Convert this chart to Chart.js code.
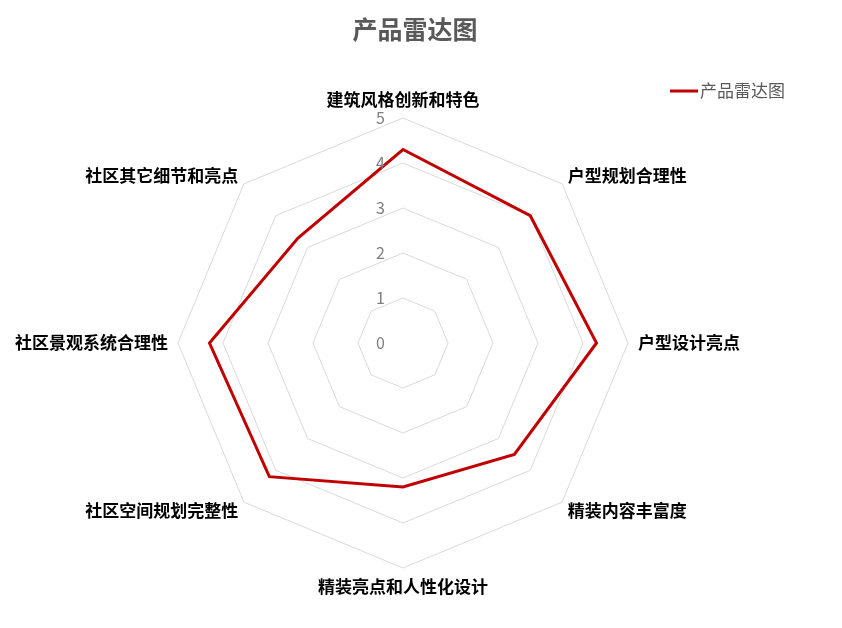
<!DOCTYPE html>
<html>
<head>
<meta charset="utf-8">
<script src="https://cdn.jsdelivr.net/npm/chart.js@4.4.0/dist/chart.umd.min.js"></script>
<style>
  html, body { margin: 0; padding: 0; background: #fff; }
  #wrap { width: 842px; height: 628px; }
</style>
</head>
<body>
<div id="wrap"><canvas id="chart" width="842" height="628"></canvas></div>
<script>
// 维度和评分
const categories = ['建筑风格创新和特色', '户型规划合理性', '户型设计亮点', '精装内容丰富度',
    '精装亮点和人性化设计', '社区空间规划完整性', '社区景观系统合理性', '社区其它细节和亮点'];
const scores = [4.3, 4.0, 4.3, 3.5, 3.2, 4.2, 4.3, 3.3];
const tickValues = [0, 1, 2, 3, 4, 5];
const chartTitle = '产品雷达图';
const seriesName = '产品雷达图';

const FONT = '"Noto Sans CJK SC", "Noto Sans", sans-serif';

// 标题、刻度数字(中轴左侧)和右上角图例
const extrasPlugin = {
    id: 'extras',
    afterDatasetsDraw(chart) {
        const scale = chart.scales.r;
        const ctx = chart.ctx;
        ctx.save();

        ctx.font = 'bold 25px ' + FONT;
        ctx.fillStyle = '#595959';
        ctx.textAlign = 'center';
        ctx.textBaseline = 'middle';
        ctx.fillText(chartTitle, 415, 29);

        ctx.font = '16px ' + FONT;
        ctx.fillStyle = '#7f7f7f';
        ctx.textAlign = 'right';
        tickValues.forEach(v => {
            const d = scale.getDistanceFromCenterForValue(v);
            ctx.fillText(String(v), scale.xCenter - 18, scale.yCenter - d);
        });

        // 图例
        const ds = chart.data.datasets[0];
        ctx.strokeStyle = ds.borderColor;
        ctx.lineWidth = 3;
        ctx.beginPath();
        ctx.moveTo(670, 91);
        ctx.lineTo(698, 91);
        ctx.stroke();
        ctx.fillStyle = '#595959';
        ctx.textAlign = 'left';
        ctx.font = '17px ' + FONT;
        ctx.fillText(ds.label, 700, 91);
        ctx.restore();
    }
};

new Chart(document.getElementById('chart'), {
    type: 'radar',
    data: {
        labels: categories,
        datasets: [{
            label: seriesName,
            data: scores,
            borderColor: '#c00000',
            backgroundColor: 'rgba(0,0,0,0)',
            borderWidth: 3,
            pointRadius: 0,
            fill: false
        }]
    },
    options: {
        responsive: false,
        animation: false,
        layout: { padding: { left: 0, right: 56, top: 91, bottom: 33 } },
        plugins: {
            title: { display: false },
            legend: { display: false },
            tooltip: { enabled: false }
        },
        scales: {
            r: {
                min: 0,
                max: 5,
                ticks: { display: false, stepSize: 1 },
                angleLines: { display: false },
                grid: { color: '#d9d9d9', lineWidth: 1 },
                pointLabels: {
                    color: '#000',
                    padding: ctx => (ctx.index % 2 === 1 ? 8 : 10),
                    font: ctx => ({
                        family: FONT, size: 17, weight: 'bold',
                        lineHeight: ctx.index % 2 === 1 ? 0.3 : 1
                    })
                }
            }
        }
    },
    plugins: [extrasPlugin]
});
</script>
</body>
</html>
